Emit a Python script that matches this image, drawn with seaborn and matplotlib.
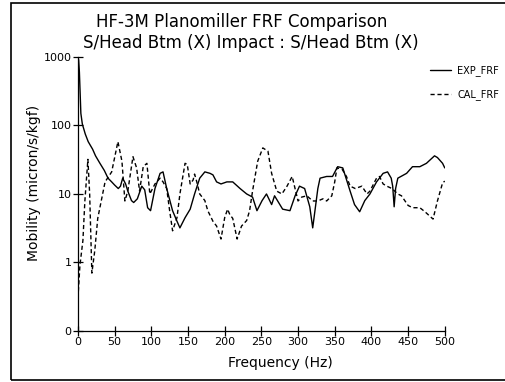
import seaborn as sns
import matplotlib.pyplot as plt
import pandas as pd
from matplotlib.patches import Rectangle

# -------------- DONNEES -------------------#

exp_freq = [0, 1, 2, 3, 4, 6, 10, 14, 20, 24, 30, 36, 41, 46, 50, 55, 58, 61, 65, 68,
            73, 76, 81, 87, 91, 95, 99, 105, 112, 116, 121, 129, 135, 139, 146, 153, 159,
            166, 173, 180, 184, 189, 195, 203, 211, 221, 230, 238, 244, 251, 257, 264,
            268, 279, 289, 296, 302, 309, 316, 320, 327, 330, 339, 347, 354, 361, 371,
            377, 384, 391, 398, 407, 416, 422, 427, 429, 431, 433, 436, 448, 456, 466,
            475, 486, 490, 497, 500]
exp_mob = [1000, 900, 600, 300, 150, 105, 75, 58, 45, 36, 28, 22, 17, 15, 13.5, 12, 13, 17,
           14, 11, 8, 7.5, 8.5, 13, 11.5, 6.3, 5.7, 12, 20, 21, 12, 5.7, 4, 3.2, 4.5, 6, 10,
           17, 21, 20, 19, 15, 14, 15, 15, 12, 10, 9, 5.7, 8, 10, 7, 9.4, 6, 5.7, 9.4, 13,
           12, 6.5, 3.2, 12, 17, 18, 18, 25, 24, 11, 7, 5.5, 8, 10, 15, 20, 21, 17, 13, 6.5,
           12, 17, 20, 25, 25, 28, 36, 34, 28, 24]

cal_freq = [0, 2.7, 6.8, 9.5, 13.6, 16, 19, 23, 27, 37, 46, 54.5, 60, 64, 68, 75, 80, 84,
            89, 94, 98, 105, 112, 116, 121, 125, 129, 135, 139, 146, 149, 153, 157, 159,
            162, 166, 173, 177, 184, 189, 195, 200, 204, 207, 211, 217, 223, 230, 234,
            238, 245, 252, 259, 264, 271, 278, 285, 292, 300, 305, 312, 320, 327, 334,
            339, 346, 350, 353, 360, 366, 371, 378, 387, 394, 398, 407, 411, 416, 421,
            428, 436, 441, 450, 456, 466, 473, 484, 490, 497, 500]
cal_mob = [0.3, 0.9, 2.1, 8, 32, 10, 0.7, 1.5, 4.4, 15, 21, 58, 30, 7.9, 11, 35, 24, 11,
           25, 28, 10, 14, 17, 15, 12, 5.7, 2.9, 4.5, 10, 28, 27, 14, 16, 19.5, 15, 10, 8,
           5.7, 4, 3.4, 2.2, 4.5, 6, 5, 4.4, 2.2, 3.4, 4.1, 5.7, 11, 30, 47, 42, 20, 11, 10,
           13, 18, 7.9, 9, 9.4, 7.9, 7.9, 8.5, 7.9, 9.4, 15, 24, 23, 18, 13, 12, 13, 10, 11,
           17, 18, 14, 13, 12, 10, 9.4, 6.8, 6.3, 6.3, 5.5, 4.3, 7.9, 14.5, 15.4]

x_ticks = [0, 50, 100, 150, 200, 250, 300, 350, 400, 450, 500]
y_ticks = [0.1, 1, 10, 100, 1000]
y_tick_labels = ['0', '1', '10', '100', '1000']

# -------------- GRAPHIQUE -------------------#

sns.set_theme(style='white')
plt.rcParams['font.family'] = ['DejaVu Sans']

df = pd.concat([
    pd.DataFrame({'freq': exp_freq, 'mob': exp_mob, 'serie': 'EXP_FRF'}),
    pd.DataFrame({'freq': cal_freq, 'mob': cal_mob, 'serie': 'CAL_FRF'}),
])

fig = plt.figure(figsize=(5.06, 3.82), dpi=100)
ax = fig.add_axes([0.154, 0.1335, 0.725, 0.7175])

sns.lineplot(data=df, x='freq', y='mob', style='serie', color='black', linewidth=1.0,
             dashes={'EXP_FRF': '', 'CAL_FRF': (3, 2)}, sort=False, ax=ax, legend=True)

ax.set_yscale('log')
ax.set_xlim(0, 500)
ax.set_ylim(0.1, 1000)
ax.set_xticks(x_ticks)
ax.set_xticklabels([str(t) for t in x_ticks])
ax.set_yticks(y_ticks)
ax.set_yticklabels(y_tick_labels)
ax.minorticks_off()
ax.tick_params(direction='inout', length=7, width=0.9, color='black', labelsize=8,
               labelcolor='black', pad=1, left=True, bottom=True)

for s in ['top', 'right']:
    ax.spines[s].set_visible(False)
for s in ['left', 'bottom']:
    ax.spines[s].set_color('black')
    ax.spines[s].set_linewidth(0.9)

ax.set_xlabel('Frequency (Hz)', fontsize=10, color='black')
ax.xaxis.set_label_coords(0.553, -0.091)
ax.set_ylabel('Mobility (micron/s/kgf)', fontsize=10, color='black')
ax.yaxis.set_label_coords(-0.10, 0.54)

fig.text(242 / 506, 1 - 22 / 382, 'HF-3M Planomiller FRF Comparison', fontsize=12,
         ha='center', va='center', color='black')
fig.text(251 / 506, 1 - 43 / 382, 'S/Head Btm (X) Impact : S/Head Btm (X)', fontsize=12,
         ha='center', va='center', color='black')

leg = ax.legend(loc='upper left', bbox_to_anchor=(430 / 506, 1 - 65 / 382),
                bbox_transform=fig.transFigure, frameon=False, fontsize=7,
                handlelength=2.2, handletextpad=0.6, labelspacing=1.4,
                borderpad=0, borderaxespad=0)
for t in leg.get_texts():
    t.set_color('black')

# cadre autour de la figure
fig.patches.append(Rectangle((0.022, 0.004), 1.2, 0.988, transform=fig.transFigure,
                             fill=False, edgecolor='black', linewidth=1.2))

plt.savefig('out.png', dpi=100)
